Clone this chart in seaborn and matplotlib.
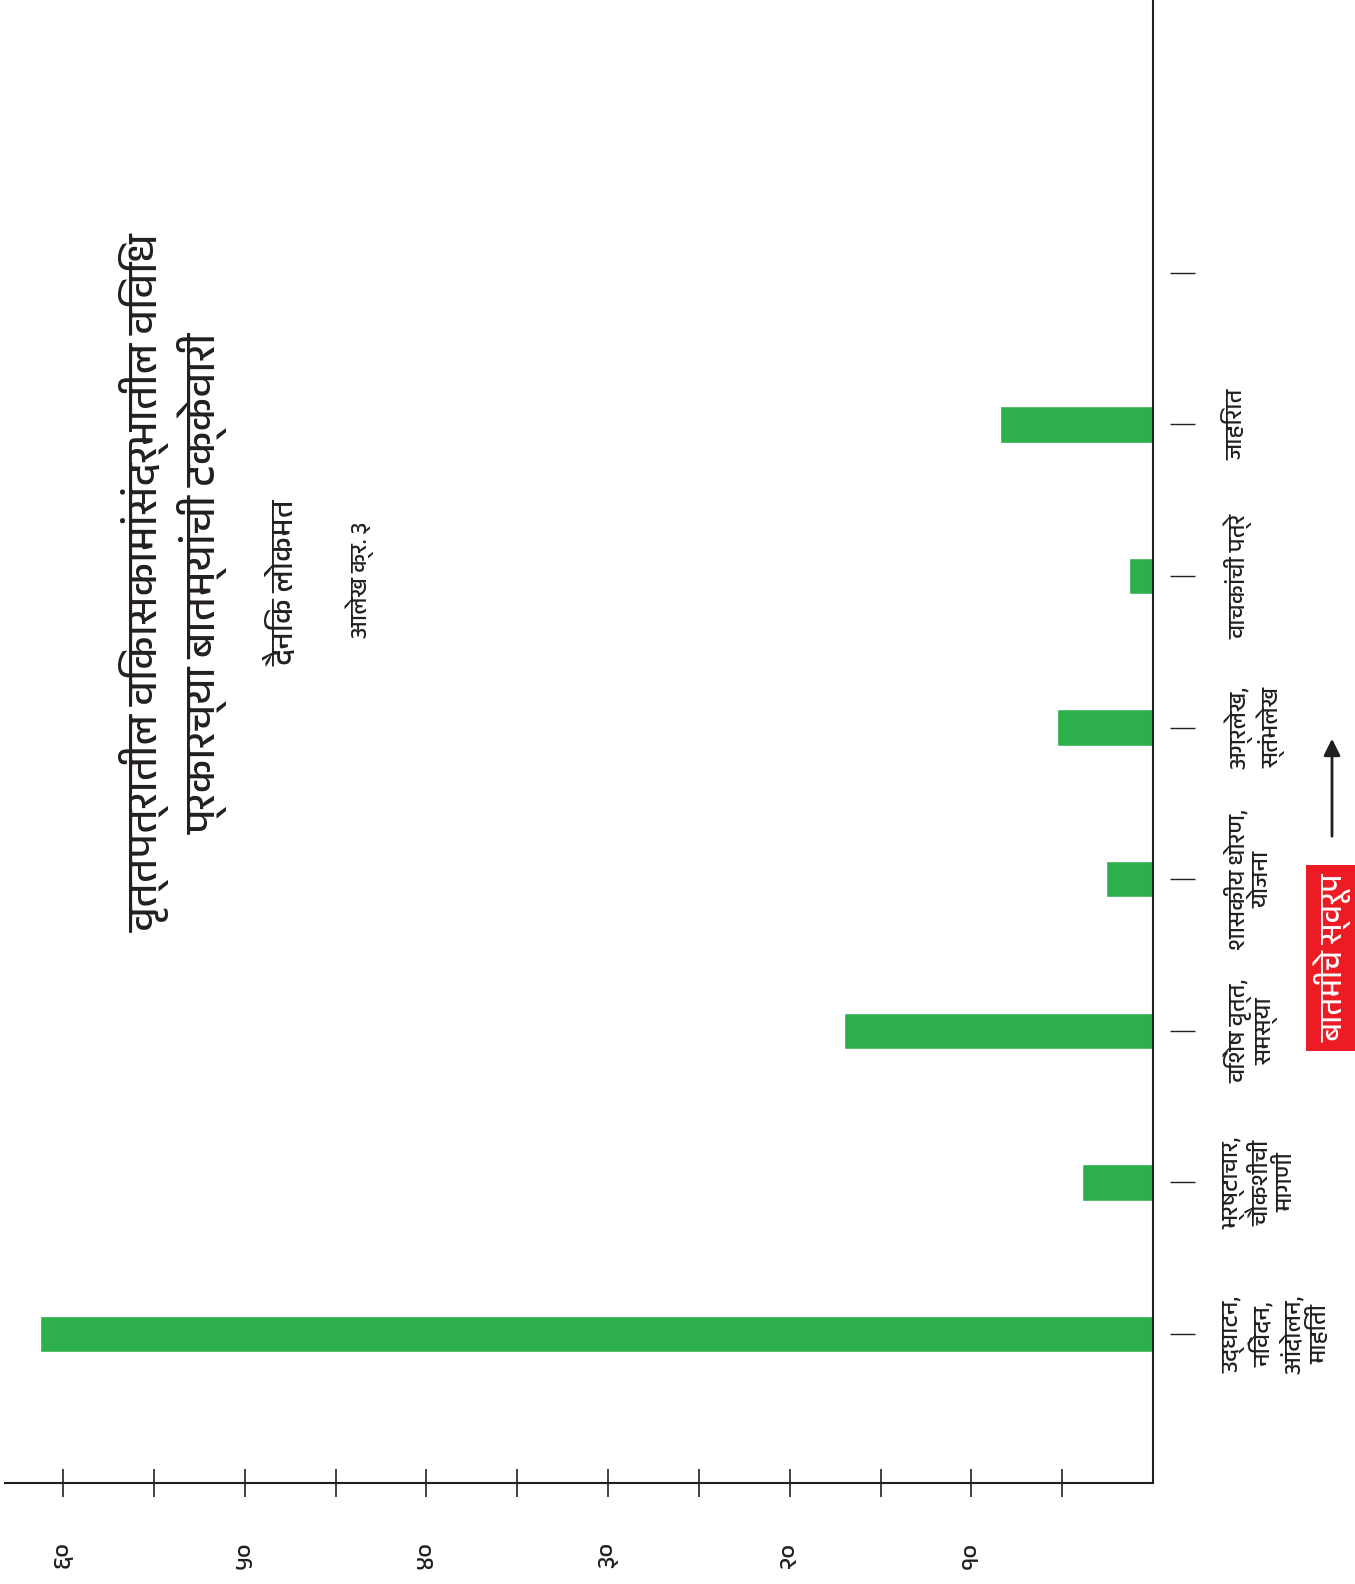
import matplotlib
matplotlib.use('Agg')
import matplotlib.pyplot as plt
from matplotlib import font_manager
from matplotlib.ft2font import FT2Font
import seaborn as sns

# data (percent of news items, newspaper: Dainik Lokmat)
categories = ['उद्घाटन,\nनिवेदन,\nआंदोलन,\nमाहिती',
              'भ्रष्टाचार,\nचौकशीची\nमागणी',
              'विशेष वृत्त,\nसमस्या',
              'शासकीय धोरण,\nयोजना',
              'अग्रलेख,\nस्तंभलेख',
              'वाचकांची पत्रे',
              'जाहिरात']
values = [61.3, 3.9, 17.0, 2.6, 5.3, 1.3, 8.4]
tick_values = [5, 10, 15, 20, 25, 30, 35, 40, 45, 50, 55, 60]
tick_labels = ['', '१०', '', '२०', '', '३०', '', '४०', '', '५०', '', '६०']

title = 'वृत्तपत्रातील विकासकामांसंदर्भातील विविध\nप्रकारच्या बातम्यांची टक्केवारी'
paper = 'दैनिक लोकमत'
chart_no = 'आलेख क्र. ३'
axis_note = 'बातमीचे स्वरूप'


def find_devanagari_font():
    found = []
    for f in font_manager.fontManager.ttflist:
        try:
            if 0x0915 in FT2Font(f.fname).get_charmap():
                found.append(f.name)
        except Exception:
            pass
    pref = [n for n in found if 'Devanagari' in n]
    if pref:
        return pref[0]
    if found:
        return found[0]
    return 'Noto Sans'


sns.set_style('white')
dev_font = find_devanagari_font()
plt.rcParams['font.family'] = [dev_font, 'DejaVu Sans']

ink = '#231f20'
fig = plt.figure(figsize=(13.55, 15.84), dpi=100)
ax = fig.add_axes([5 / 1355, 101 / 1584, 1148 / 1355, 1483 / 1584])

sns.barplot(x=values, y=categories, orient='h', color='#2db04b',
            width=0.24, saturation=1, ax=ax)

ax.set_xlim(63.2, 0)
ax.set_ylim(-0.983, 8.80)
ax.set_xlabel('')
ax.set_ylabel('')

for s in ['top', 'left']:
    ax.spines[s].set_visible(False)
ax.spines['bottom'].set_color(ink)
ax.spines['bottom'].set_linewidth(1.5)
ax.spines['right'].set_visible(False)
ax.spines['right'].set_position(('outward', 12))
ax.axvline(0, color=ink, lw=1.5, clip_on=False)

ax.set_xticks(tick_values)
ax.set_xticklabels(tick_labels, rotation=90, fontsize=18, color=ink)
ax.tick_params(axis='x', bottom=True, direction='inout', length=20, width=1.2,
               color=ink, pad=32)

ax.yaxis.tick_right()
ax.set_yticks(range(len(categories) + 1))
ax.set_yticklabels(categories + [''], fontsize=17, color=ink)
ax.tick_params(axis='y', right=True, direction='out', length=18, width=1,
               color=ink, pad=21)
for lab in ax.get_yticklabels():
    lab.set_rotation(90)
    lab.set_va('center')
    lab.set_multialignment('center')

fig.text(174 / 1355, 1 - 583 / 1584, title, rotation=90, ha='center', va='center',
         multialignment='center', fontsize=30, color=ink)
fig.text(283 / 1355, 1 - 583 / 1584, paper, rotation=90, ha='center', va='center',
         fontsize=22, fontweight='medium', color=ink)
fig.text(360 / 1355, 1 - 580 / 1584, chart_no, rotation=90, ha='center', va='center',
         fontsize=17, color=ink)

fig.text(1333 / 1355, 1 - 958 / 1584, axis_note, rotation=90, ha='center', va='center',
         fontsize=22, fontweight='bold', color='white',
         bbox=dict(boxstyle='square,pad=0.28', fc='#ed1c24', ec='none'))
fig.patches.append(matplotlib.patches.FancyArrowPatch(
    (1332 / 1355, 1 - 839 / 1584), (1332 / 1355, 1 - 736 / 1584),
    transform=fig.transFigure, arrowstyle='-|>', mutation_scale=25,
    lw=2, color=ink))

fig.savefig('out.png', dpi=100)
